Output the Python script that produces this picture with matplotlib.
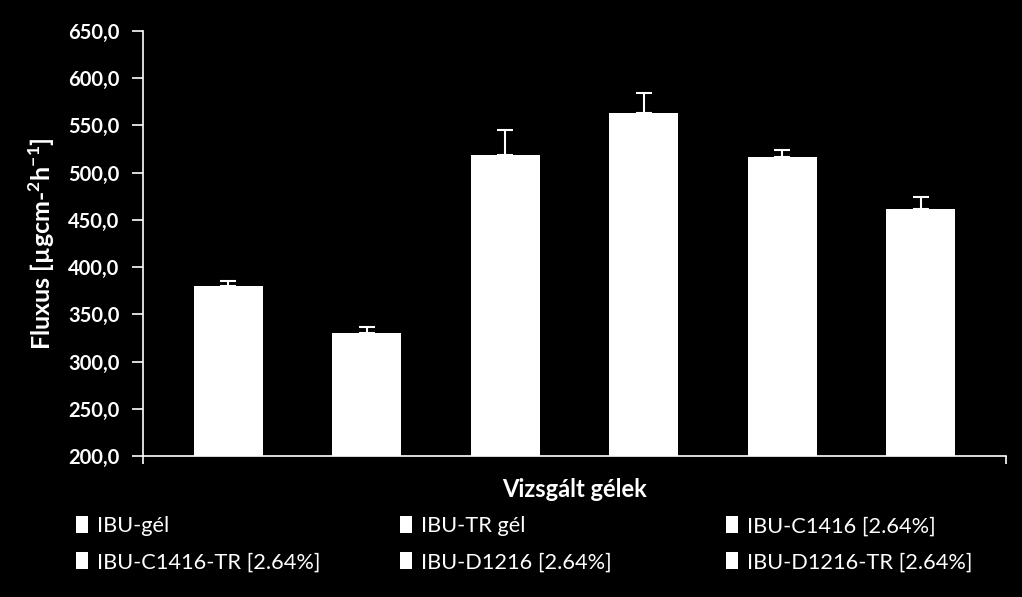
import matplotlib
matplotlib.use("Agg")
import matplotlib.pyplot as plt
import numpy as np

series = ["IBU-gél", "IBU-TR gél", "IBU-C1416 [2.64%]",
          "IBU-C1416-TR [2.64%]", "IBU-D1216 [2.64%]", "IBU-D1216-TR [2.64%]"]
values = [380.0, 330.5, 519.0, 563.5, 516.5, 461.5]
errors = [5.0, 6.0, 26.0, 21.0, 7.0, 12.5]
yticks = [200, 250, 300, 350, 400, 450, 500, 550, 600, 650]

plt.rcParams['font.family'] = ['Lato', 'DejaVu Sans']
plt.rcParams['mathtext.fontset'] = 'custom'
plt.rcParams['mathtext.bf'] = 'Lato:bold'
plt.rcParams['mathtext.rm'] = 'Lato'

fig = plt.figure(figsize=(10.22, 5.97), dpi=100, facecolor='black')
ax = fig.add_axes([143/1022, 1-456/597, 863/1022, 425/597])
ax.set_facecolor('black')

bars = []
for i, (s, v, e) in enumerate(zip(series, values, errors)):
    b = ax.bar(i, v - 200, bottom=200, width=0.5, color='white', label=s, zorder=2)
    ax.errorbar(i, v, yerr=[[0], [e]], fmt='none', ecolor='white',
                elinewidth=1.5, capsize=5.5, capthick=1.5, zorder=3)
    bars.append(b[0])

ax.set_xlim(-0.616, 5.616)
ax.set_ylim(200, 650)
ax.tick_params(axis='y', colors='white', direction='out', length=8, width=1.2, pad=9)
ax.tick_params(axis='x', colors='white', direction='out', length=6, width=1.2)
ax.set_yticks(yticks)
ax.set_yticklabels([f"{t:.1f}".replace('.', ',') for t in yticks],
                   fontsize=14.5, fontweight='bold', color='white')
ax.set_xticks([-0.616, 5.616])
ax.set_xticklabels([])
for sp in ['top', 'right']:
    ax.spines[sp].set_visible(False)
for sp in ['left', 'bottom']:
    ax.spines[sp].set_color('white')
    ax.spines[sp].set_linewidth(1.2)

ax.set_ylabel(r"Fluxus [µgcm-$^{\mathbf{2}}$h$^{\mathbf{-1}}$]", color='white',
              fontsize=18, fontweight='bold')
ax.yaxis.set_label_coords(-0.1, 0.5)
ax.set_xlabel("Vizsgált gélek", color='white', fontsize=17, fontweight='bold',
              labelpad=6)

xs = [76/1022, 400/1022, 726/1022]
for c in range(3):
    hs = [bars[c], bars[c + 3]]
    ls = [series[c], series[c + 3]]
    leg = fig.legend(hs, ls, loc='upper left', bbox_to_anchor=(xs[c], 1 - 516/597),
                     frameon=False, fontsize=15.7, handlelength=0.55, handleheight=0.85,
                     handletextpad=0.4, labelspacing=0.72, borderpad=0,
                     borderaxespad=0, labelcolor='white')

fig.savefig("out.png", dpi=100, facecolor='black')
